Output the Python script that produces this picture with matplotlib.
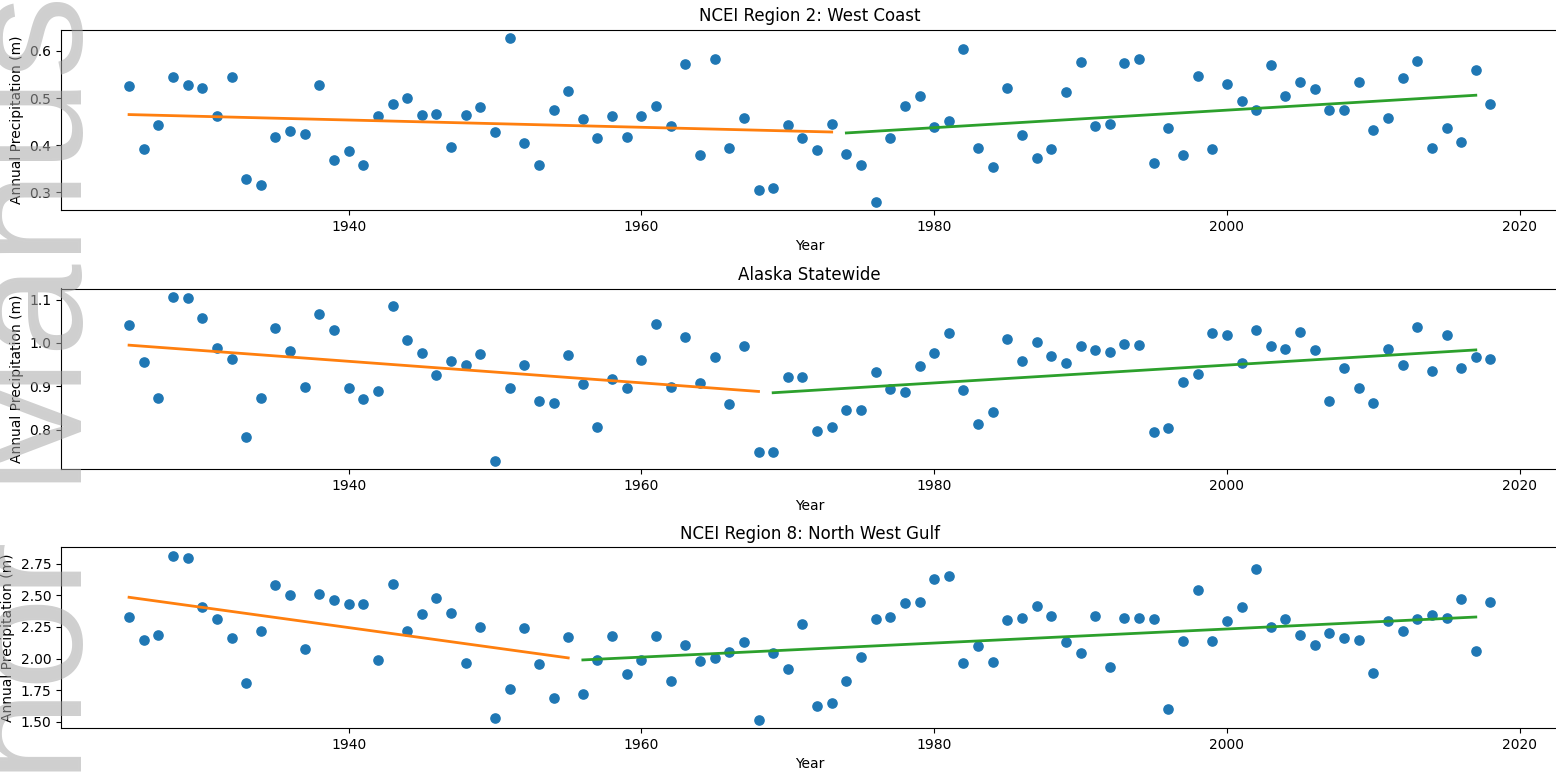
import matplotlib
matplotlib.use("Agg")
import matplotlib.pyplot as plt
import numpy as np

years = list(range(1925, 2019))

west_coast = [0.526, 0.391, 0.442, 0.545, 0.528, 0.521, 0.461, 0.545, 0.329, 0.315,
              0.418, 0.431, 0.423, 0.528, 0.368, 0.387, 0.357, 0.462, 0.488, 0.500,
              0.465, 0.467, 0.396, 0.465, 0.482, 0.427, 0.628, 0.404, 0.357, 0.475,
              0.516, 0.455, 0.415, 0.461, 0.418, 0.462, 0.484, 0.440, 0.573, 0.380,
              0.583, 0.394, 0.457, 0.304, 0.309, 0.443, 0.415, 0.389, 0.446, 0.382,
              0.359, 0.280, 0.415, 0.483, 0.505, 0.439, 0.451, 0.603, 0.395, 0.354,
              0.521, 0.421, 0.372, 0.392, 0.512, 0.576, 0.441, 0.445, 0.575, 0.582,
              0.363, 0.436, 0.379, 0.546, 0.391, 0.530, 0.494, 0.475, 0.570, 0.504,
              0.534, 0.520, 0.475, 0.474, 0.533, 0.433, 0.458, 0.543, 0.579, 0.395,
              0.437, 0.407, 0.559, 0.487]

alaska = [1.042, 0.955, 0.872, 1.107, 1.105, 1.057, 0.989, 0.963, 0.783, 0.872,
          1.035, 0.981, 0.898, 1.068, 1.029, 0.897, 0.870, 0.888, 1.085, 1.006,
          0.978, 0.927, 0.959, 0.948, 0.974, 0.727, 0.895, 0.949, 0.866, 0.861,
          0.973, 0.905, 0.805, 0.917, 0.896, 0.961, 1.044, 0.899, 1.015, 0.908,
          0.967, 0.859, 0.993, 0.748, 0.748, 0.922, 0.922, 0.796, 0.806, 0.845,
          0.845, 0.932, 0.893, 0.886, 0.947, 0.978, 1.024, 0.892, 0.812, 0.840,
          1.009, 0.958, 1.002, 0.970, 0.954, 0.993, 0.984, 0.980, 0.998, 0.995,
          0.795, 0.804, 0.910, 0.929, 1.024, 1.018, 0.953, 1.030, 0.992, 0.985,
          1.026, 0.984, 0.867, 0.943, 0.895, 0.861, 0.985, 0.948, 1.038, 0.935,
          1.019, 0.943, 0.968, 0.964]

nw_gulf = [2.330, 2.143, 2.185, 2.814, 2.795, 2.407, 2.309, 2.164, 1.807, 2.217,
           2.579, 2.499, 2.074, 2.507, 2.462, 2.431, 2.433, 1.987, 2.592, 2.217,
           2.351, 2.476, 2.357, 1.966, 2.248, 1.530, 1.760, 2.238, 1.958, 1.686,
           2.169, 1.723, 1.987, 2.177, 1.878, 1.989, 2.180, 1.826, 2.106, 1.981,
           2.008, 2.050, 2.127, 1.516, 2.042, 1.918, 2.275, 1.622, 1.646, 1.823,
           2.016, 2.309, 2.328, 2.436, 2.444, 2.629, 2.655, 1.966, 2.100, 1.976,
           2.301, 2.322, 2.415, 2.333, 2.127, 2.040, 2.336, 1.931, 2.322, 2.322,
           2.312, 1.598, 2.135, 2.542, 2.137, 2.293, 2.410, 2.706, 2.251, 2.314,
           2.185, 2.106, 2.198, 2.161, 2.145, 1.884, 2.296, 2.219, 2.314, 2.346,
           2.317, 2.470, 2.061, 2.444]

titles = ["NCEI Region 2: West Coast", "Alaska Statewide", "NCEI Region 8: North West Gulf"]

# trend segments: (start year, end year) and (start value, end value)
trend_early_years = [[1925, 1973], [1925, 1968], [1925, 1955]]
trend_early_vals = [[0.465, 0.428], [0.995, 0.888], [2.484, 2.005]]
trend_late_years = [[1974, 2017], [1969, 2017], [1956, 2017]]
trend_late_vals = [[0.426, 0.506], [0.885, 0.984], [1.989, 2.328]]

series = [west_coast, alaska, nw_gulf]

fig = plt.figure(figsize=(15.56, 7.73), dpi=100)
W, H = 1556, 773
left_px, right_px = 61, 1558.5
panel_px = [(29.5, 210), (288.5, 469.3), (547.3, 728)]

for i, (top, bot) in enumerate(panel_px):
    ax = fig.add_axes([left_px / W, 1 - bot / H, (right_px - left_px) / W, (bot - top) / H])
    ax.scatter(years, series[i], s=44, color="C0", zorder=2)
    ax.plot(trend_early_years[i], trend_early_vals[i], color="C1", lw=2)
    ax.plot(trend_late_years[i], trend_late_vals[i], color="C2", lw=2)
    ax.set_title(titles[i], fontsize=12)
    ax.set_xlabel("Year", fontsize=10)
    ax.set_ylabel("Annual Precipitation (m)", fontsize=10)
    ax.tick_params(labelsize=10)
    if i == 2:
        ax.yaxis.set_major_locator(matplotlib.ticker.MultipleLocator(0.25))
        ax.yaxis.set_major_formatter(matplotlib.ticker.FormatStrFormatter("%.2f"))
    ax.set_xticks([1940, 1960, 1980, 2000, 2020])
    ax.set_xlim(1920.35, 2022.65)

# watermark from the source document
fig.text(82 / W, -0.335, "Author Manuscript", rotation=90, rotation_mode="anchor",
         ha="left", va="baseline", fontsize=120, family="Liberation Sans",
         color="#a8a8a8", alpha=0.55, zorder=10)

fig.savefig("out.png", dpi=100)
